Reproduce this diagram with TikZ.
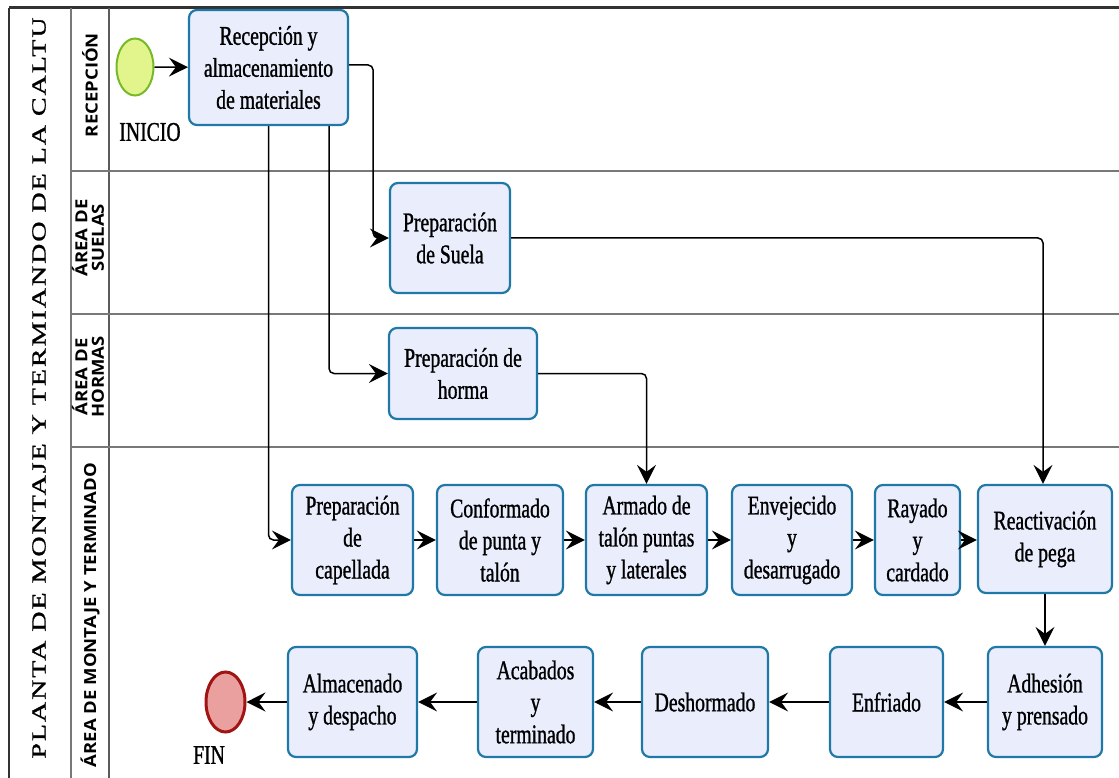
\documentclass[tikz,border=0pt]{standalone}
\usepackage{fontspec}
\setmainfont{Liberation Serif}
\newfontfamily\boxfont{Liberation Serif}[FakeStretch=0.73,FakeBold=1]
\newfontfamily\titlefont{Liberation Serif}[LetterSpace=7,FakeBold=1]
\newfontfamily\lanefont{Open Sans}
\usetikzlibrary{arrows.meta,shapes.geometric}
\definecolor{boxblue}{RGB}{31,120,165}
\definecolor{boxfill}{RGB}{233,237,252}
\definecolor{startfill}{RGB}{225,245,140}
\definecolor{startborder}{RGB}{120,185,40}
\definecolor{endfill}{RGB}{235,160,160}
\definecolor{endborder}{RGB}{160,20,20}
\definecolor{lanegray}{RGB}{120,120,120}
\definecolor{framedark}{RGB}{50,50,50}
\tikzset{flowtip/.tip={Stealth[length=19pt,width=19pt,inset=7pt]}}
\begin{document}
\begin{tikzpicture}[x=1pt,y=-1pt,
  proc/.style={draw=boxblue, fill=boxfill, line width=2.2pt, rounded corners=8pt,
    align=center, inner sep=0pt, font=\boxfont\fontsize{27}{32}\selectfont, text=black},
  flow/.style={line width=1.5pt, -flowtip},
  route/.style={flow, rounded corners=5pt},
  lanesep/.style={draw=lanegray, line width=2pt},
  lanelabel/.style={rotate=90, inner sep=0pt},
  evlabel/.style={font=\boxfont\fontsize{27}{27}\selectfont, inner sep=0pt}]
\useasboundingbox (0,0) rectangle (1119,778);
% pool frame
\draw[framedark, line width=3pt] (9,8) -- (1119,8);
\draw[framedark, line width=2.5pt] (9,8) -- (9,778);
\draw[lanegray, line width=1.5pt] (71,8) -- (71,778);
\draw[framedark!80, line width=1.2pt] (109,8) -- (109,778);
\draw[lanesep] (71,171) -- (1119,171);
\draw[lanesep] (71,314) -- (1119,314);
\draw[lanesep] (71,447) -- (1119,447);
% title and lane labels
\node[lanelabel] (title) at (39,388) {\scalebox{1}[0.72]{\titlefont\fontsize{28}{28}\selectfont PLANTA DE MONTAJE Y TERMIANDO DE LA CALTU}};
\node[lanelabel] (l1) at (90,85) {\scalebox{1}[0.9]{\lanefont\bfseries\fontsize{18.5}{18.5}\selectfont RECEPCIÓN}};
\node[lanelabel] (l2) at (90,238) {\scalebox{1}[0.9]{\lanefont\bfseries\fontsize{18.5}{16.5}\selectfont\begin{tabular}{@{}c@{}}ÁREA DE\\SUELAS\end{tabular}}};
\node[lanelabel] (l3) at (90,377) {\scalebox{1}[0.9]{\lanefont\bfseries\fontsize{18.5}{16.5}\selectfont\begin{tabular}{@{}c@{}}ÁREA DE\\HORMAS\end{tabular}}};
\node[lanelabel] (l4) at (90,615) {\scalebox{1}[0.9]{\lanefont\bfseries\fontsize{18.5}{18.5}\selectfont ÁREA DE MONTAJE Y TERMINADO}};
% events
\node[ellipse, draw=startborder, fill=startfill, line width=2pt, minimum width=37pt, minimum height=57pt, inner sep=0pt] (start) at (135,67) {};
\node[evlabel] (inicio) at (150,132) {INICIO};
\node[ellipse, draw=endborder, fill=endfill, line width=3pt, minimum width=39pt, minimum height=60pt, inner sep=0pt] (fin) at (225.5,702) {};
\node[evlabel] (finlabel) at (209,755) {FIN};
% tasks
\node[proc, minimum width=159pt, minimum height=115pt] (rec) at (268.5,67.5) {Recepción y\\almacenamiento\\de materiales};
\node[proc, minimum width=120pt, minimum height=110pt] (sue) at (450,238) {Preparación\\de Suela};
\node[proc, minimum width=148pt, minimum height=91pt] (hor) at (463,373.5) {Preparación de\\horma};
\node[proc, minimum width=121pt, minimum height=110pt] (cap) at (352.5,540) {Preparación\\de\\capellada};
\node[proc, minimum width=126pt, minimum height=110pt] (con) at (500,540) {Conformado\\de punta y\\talón};
\node[proc, minimum width=121pt, minimum height=110pt] (arm) at (646.5,540) {Armado de\\talón puntas\\y laterales};
\node[proc, minimum width=120pt, minimum height=110pt] (env) at (792,540) {Envejecido\\y\\desarrugado};
\node[proc, minimum width=85pt, minimum height=110pt] (ray) at (917.5,540) {Rayado\\y\\cardado};
\node[proc, minimum width=134pt, minimum height=108pt] (rea) at (1045,539) {Reactivación\\de pega};
\node[proc, minimum width=114pt, minimum height=110pt] (adh) at (1045,702) {Adhesión\\y prensado};
\node[proc, minimum width=113pt, minimum height=110pt] (enf) at (886.5,702) {Enfriado};
\node[proc, minimum width=126pt, minimum height=110pt] (des) at (705,702) {Deshormado};
\node[proc, minimum width=115pt, minimum height=110pt] (aca) at (535.5,702) {Acabados\\y\\terminado};
\node[proc, minimum width=129pt, minimum height=110pt] (alm) at (352.5,702) {Almacenado\\y despacho};
% connectors
\draw[flow] (start) -- (rec);
\draw[route] ([yshift=2.5pt]rec.east) -- ++(24,0) |- (sue.west);
\draw[route] ([xshift=60.5pt]rec.south) |- (hor.west);
\draw[route] (rec.south) |- (cap.west);
\draw[route] (hor.east) -| (arm.north);
\draw[route] (sue.east) -| ([xshift=-2pt]rea.north);
\draw[flow] (cap) -- (con);
\draw[flow] (con) -- (arm);
\draw[flow] (arm) -- (env);
\draw[flow] (env) -- (ray);
\draw[flow] (ray.east) -- (ray.east -| rea.west);
\draw[flow] (rea) -- (adh);
\draw[flow] (adh) -- (enf);
\draw[flow] (enf) -- (des);
\draw[flow] (des) -- (aca);
\draw[flow] (aca) -- (alm);
\draw[flow] (alm) -- (fin);
\end{tikzpicture}
\end{document}
